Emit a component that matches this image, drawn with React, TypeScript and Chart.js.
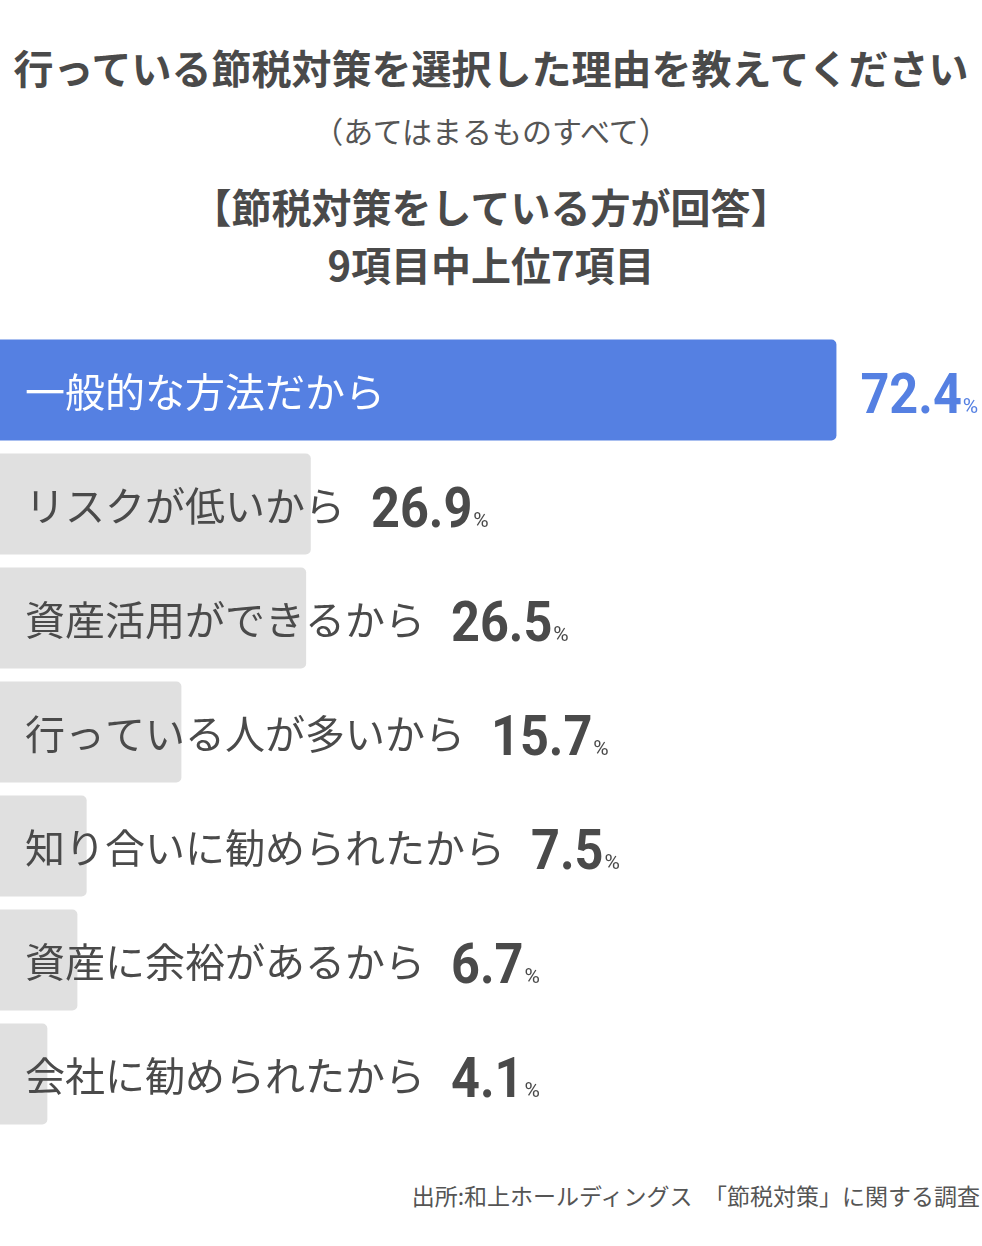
import { useEffect, useRef } from "react"
import { Chart, registerables, type Plugin } from "chart.js"

Chart.register(...registerables)

const categories = [
  "一般的な方法だから",
  "リスクが低いから",
  "資産活用ができるから",
  "行っている人が多いから",
  "知り合いに勧められたから",
  "資産に余裕があるから",
  "会社に勧められたから",
]
const values = [72.4, 26.9, 26.5, 15.7, 7.5, 6.7, 4.1]

const BLUE = "#5580e2"
const GRAY = "#e0e0e0"
const TEXT = "#4a4a4a"
const JP = '"Noto Sans CJK JP", "Noto Sans", sans-serif'

// draws the category label on the bar and the value after it
const labelPlugin: Plugin<"bar"> = {
  id: "barLabels",
  afterDatasetsDraw(chart) {
    const ctx = chart.ctx
    const meta = chart.getDatasetMeta(0)
    meta.data.forEach((bar, i) => {
      const { x, y } = bar.getProps(["x", "y"], true) as { x: number; y: number }
      const top = i === 0
      ctx.save()
      ctx.font = `400 40px ${JP}`
      ctx.fillStyle = top ? "#ffffff" : TEXT
      ctx.textBaseline = "middle"
      ctx.textAlign = "left"
      ctx.fillText(categories[i], 25, y + 2)
      const labelW = ctx.measureText(categories[i]).width

      const vx = top ? x + 24 : 25 + labelW + 26
      const num = values[i].toFixed(1)
      ctx.fillStyle = top ? BLUE : TEXT
      ctx.textBaseline = "alphabetic"
      ctx.font = `700 56px Roboto`
      const sx = 0.9
      const nw = ctx.measureText(num).width * sx
      ctx.save()
      ctx.translate(vx, y + 23)
      ctx.scale(sx, 1)
      ctx.fillText(num, 0, 0)
      ctx.restore()
      ctx.font = `400 21px Roboto`
      ctx.fillText("%", vx + nw + 1, y + 23)
      ctx.restore()
    })
  },
}

function BarChart() {
  const canvasRef = useRef<HTMLCanvasElement>(null)
  const chartRef = useRef<Chart | null>(null)

  useEffect(() => {
    if (!canvasRef.current) return
    if (chartRef.current) chartRef.current.destroy()

    chartRef.current = new Chart(canvasRef.current, {
      type: "bar",
      data: {
        labels: categories,
        datasets: [
          {
            data: values,
            backgroundColor: values.map((_, i) => (i === 0 ? BLUE : GRAY)),
            borderRadius: 5,
            borderSkipped: "start",
            barPercentage: 1,
            categoryPercentage: 101 / 114,
          },
        ],
      },
      options: {
        indexAxis: "y",
        animation: false,
        responsive: true,
        maintainAspectRatio: false,
        layout: { padding: 0 },
        plugins: {
          legend: { display: false },
          tooltip: { enabled: false },
        },
        scales: {
          x: { display: false, min: 0, max: 85 },
          y: { display: false },
        },
      },
      plugins: [labelPlugin],
    })

    return () => {
      if (chartRef.current) {
        chartRef.current.destroy()
        chartRef.current = null
      }
    }
  }, [])

  return <canvas ref={canvasRef} />
}

export default function App() {
  useEffect(() => {
    document.body.style.margin = "0"
  }, [])

  const center: React.CSSProperties = {
    position: "absolute",
    left: 0,
    width: 982,
    textAlign: "center",
    fontFamily: JP,
    color: TEXT,
    whiteSpace: "nowrap",
  }

  return (
    <div style={{ position: "relative", width: 982, height: 1246, background: "#fff" }}>
      <div style={{ ...center, top: 43, fontSize: 40, lineHeight: "48px", fontWeight: 700 }}>
        行っている節税対策を選択した理由を教えてください
      </div>
      <div style={{ ...center, top: 110, fontSize: 30, lineHeight: "40px", fontWeight: 400, color: "#555" }}>
        （あてはまるものすべて）
      </div>
      <div style={{ ...center, top: 177, fontSize: 40, lineHeight: "58px", fontWeight: 700 }}>
        【節税対策をしている方が回答】
        <br />
        9項目中上位7項目
      </div>
      <div style={{ position: "absolute", left: 0, top: 333, width: 982, height: 798 }}>
        <BarChart />
      </div>
      <div
        style={{
          position: "absolute",
          right: 2,
          top: 1180,
          fontSize: 23,
          lineHeight: "30px",
          fontFamily: JP,
          color: "#555",
          whiteSpace: "nowrap",
        }}
      >
        出所:和上ホールディングス　「節税対策」に関する調査
      </div>
    </div>
  )
}
